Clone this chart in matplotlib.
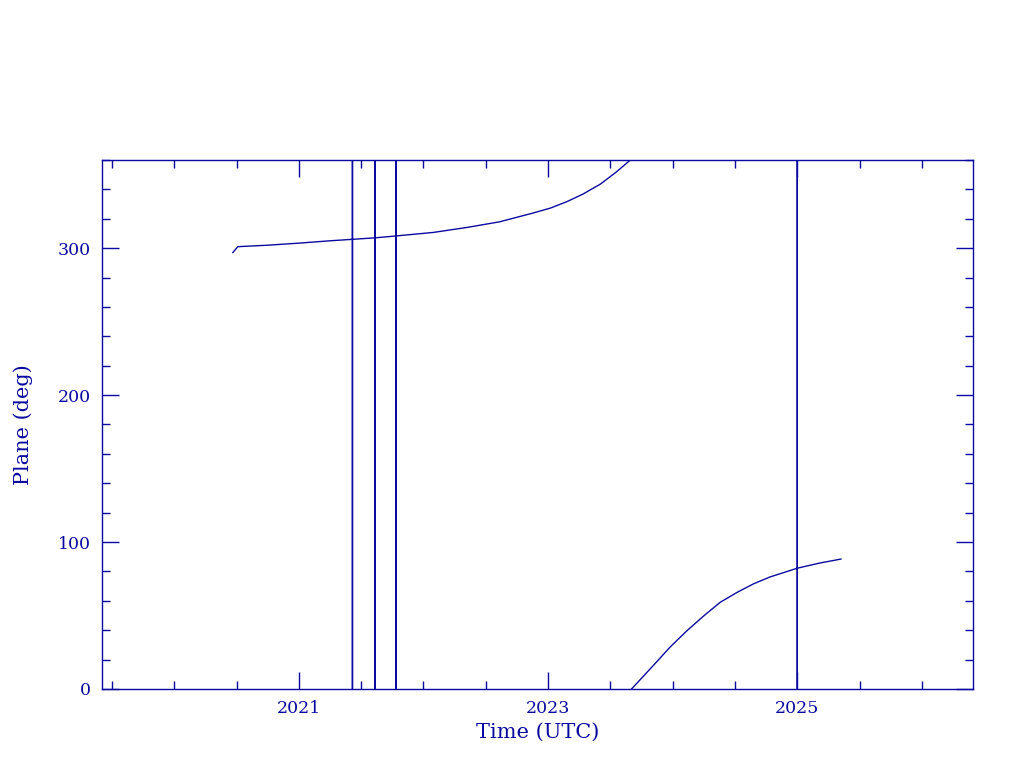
import matplotlib.pyplot as plt
import numpy as np
from matplotlib.ticker import MultipleLocator, FormatStrFormatter

# plane angle vs time (decimal years);
# the 0/360 pairs are the full-height jumps in the data
t_upper = [2020.47, 2020.51, 2020.75, 2021.0, 2021.25,
           2021.43, 2021.43, 2021.43, 2021.43,
           2021.61, 2021.61, 2021.61, 2021.61,
           2021.78, 2021.78, 2021.78, 2021.78,
           2022.08, 2022.35, 2022.61, 2022.88, 2023.02, 2023.15,
           2023.28, 2023.42, 2023.55, 2023.66]
p_upper = [297, 301, 302, 303.4, 305,
           306, 0, 360, 306,
           307, 0, 360, 307,
           308.3, 0, 360, 308.3,
           310.7, 314.1, 317.9, 323.9, 327.3, 331.6,
           336.8, 343.6, 352, 360]

t_lower = [2023.67, 2023.85, 2023.98, 2024.11, 2024.25, 2024.38, 2024.52,
           2024.65, 2024.78, 2024.92, 2025.0, 2025.0, 2025.0, 2025.0,
           2025.18, 2025.35]
p_lower = [0, 16.5, 28.6, 39.3, 49.8, 58.9, 65.9,
           71.6, 76.2, 80, 82.2, 360, 0, 82.2,
           85.7, 88.4]

col = '#0a0aa0'
plt.rcParams['font.family'] = ['DejaVu Serif']

fig = plt.figure(figsize=(10.24, 7.68), dpi=100)
ax = fig.add_axes([0.0996, 0.1029, 0.8506, 0.6888])

ax.plot(t_upper, p_upper, color=col, lw=1.0)
ax.plot(t_lower, p_lower, color=col, lw=1.0)

ax.set_xlim(2019.42, 2026.41)
ax.set_ylim(0, 360)

ax.xaxis.set_major_locator(MultipleLocator(2.0, offset=1.0))
ax.xaxis.set_minor_locator(MultipleLocator(0.5))
ax.xaxis.set_major_formatter(FormatStrFormatter('%d'))
ax.yaxis.set_major_locator(MultipleLocator(100))
ax.yaxis.set_minor_locator(MultipleLocator(20))

ax.tick_params(which='both', direction='in', top=True, right=True, color=col,
               labelcolor=col, labelsize=12.5, width=1)
ax.tick_params(which='major', length=12, pad=8)
ax.tick_params(which='minor', length=6)
for s in ax.spines.values():
    s.set_color(col)
    s.set_linewidth(1)

ax.set_xlabel('Time (UTC)', color=col, fontsize=15, labelpad=4)
ax.set_ylabel('Plane (deg)', color=col, fontsize=15, labelpad=18)

fig.savefig('out.png', dpi=100)
